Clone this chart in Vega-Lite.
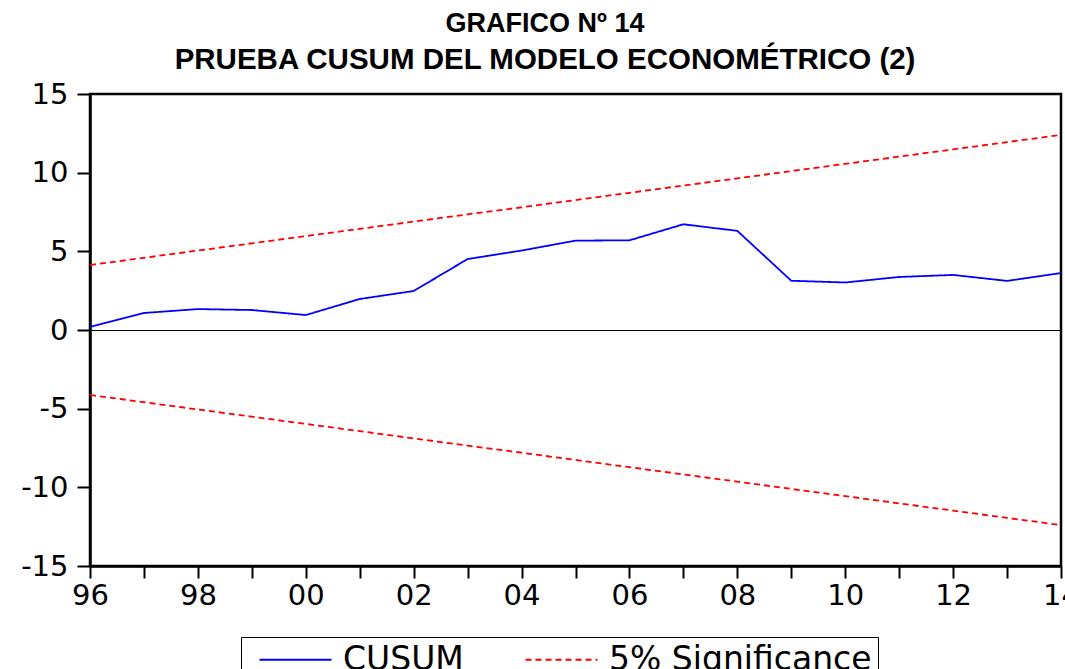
{
  "$schema": "https://vega.github.io/schema/vega-lite/v6.json",
  "autosize": {"type": "none"},
  "width": 971,
  "height": 472,
  "padding": {"left": 90, "top": 94, "right": 4, "bottom": 103},
  "background": "white",
  "config": {
    "font": "Liberation Sans",
    "view": {"stroke": "black", "strokeWidth": 2.5},
    "axis": {"grid": false, "domainColor": "black", "domainWidth": 2.5, "tickColor": "black", "tickWidth": 2, "labelColor": "black", "labelFont": "DejaVu Sans", "labelFontSize": 29, "titleFont": "Liberation Sans"}
  },
  "title": {
    "text": "GRAFICO Nº 14",
    "subtitle": "PRUEBA CUSUM DEL MODELO ECONOMÉTRICO (2)",
    "anchor": "middle",
    "frame": "bounds",
    "dx": -5,
    "font": "Liberation Sans",
    "fontSize": 27,
    "fontWeight": "bold",
    "color": "black",
    "subtitleFont": "Liberation Sans",
    "subtitleFontSize": 29.5,
    "subtitleFontWeight": "bold",
    "subtitleColor": "black",
    "subtitlePadding": 8,
    "offset": 5
  },
  "data": {
    "values": [
      {"year": 1996, "series": "CUSUM", "band": "c", "value": 0.2},
      {"year": 1997, "series": "CUSUM", "band": "c", "value": 1.08},
      {"year": 1998, "series": "CUSUM", "band": "c", "value": 1.33},
      {"year": 1999, "series": "CUSUM", "band": "c", "value": 1.27},
      {"year": 2000, "series": "CUSUM", "band": "c", "value": 0.95},
      {"year": 2001, "series": "CUSUM", "band": "c", "value": 1.97},
      {"year": 2002, "series": "CUSUM", "band": "c", "value": 2.48},
      {"year": 2003, "series": "CUSUM", "band": "c", "value": 4.51},
      {"year": 2004, "series": "CUSUM", "band": "c", "value": 5.05},
      {"year": 2005, "series": "CUSUM", "band": "c", "value": 5.68},
      {"year": 2006, "series": "CUSUM", "band": "c", "value": 5.70},
      {"year": 2007, "series": "CUSUM", "band": "c", "value": 6.72},
      {"year": 2008, "series": "CUSUM", "band": "c", "value": 6.30},
      {"year": 2009, "series": "CUSUM", "band": "c", "value": 3.13},
      {"year": 2010, "series": "CUSUM", "band": "c", "value": 3.02},
      {"year": 2011, "series": "CUSUM", "band": "c", "value": 3.37},
      {"year": 2012, "series": "CUSUM", "band": "c", "value": 3.50},
      {"year": 2013, "series": "CUSUM", "band": "c", "value": 3.12},
      {"year": 2014, "series": "CUSUM", "band": "c", "value": 3.62},
      {"year": 1996, "series": "5% Significance", "band": "u", "value": 4.13},
      {"year": 1997, "series": "5% Significance", "band": "u", "value": 4.59},
      {"year": 1998, "series": "5% Significance", "band": "u", "value": 5.05},
      {"year": 1999, "series": "5% Significance", "band": "u", "value": 5.51},
      {"year": 2000, "series": "5% Significance", "band": "u", "value": 5.97},
      {"year": 2001, "series": "5% Significance", "band": "u", "value": 6.43},
      {"year": 2002, "series": "5% Significance", "band": "u", "value": 6.89},
      {"year": 2003, "series": "5% Significance", "band": "u", "value": 7.35},
      {"year": 2004, "series": "5% Significance", "band": "u", "value": 7.80},
      {"year": 2005, "series": "5% Significance", "band": "u", "value": 8.26},
      {"year": 2006, "series": "5% Significance", "band": "u", "value": 8.72},
      {"year": 2007, "series": "5% Significance", "band": "u", "value": 9.18},
      {"year": 2008, "series": "5% Significance", "band": "u", "value": 9.64},
      {"year": 2009, "series": "5% Significance", "band": "u", "value": 10.10},
      {"year": 2010, "series": "5% Significance", "band": "u", "value": 10.56},
      {"year": 2011, "series": "5% Significance", "band": "u", "value": 11.02},
      {"year": 2012, "series": "5% Significance", "band": "u", "value": 11.48},
      {"year": 2013, "series": "5% Significance", "band": "u", "value": 11.94},
      {"year": 2014, "series": "5% Significance", "band": "u", "value": 12.40},
      {"year": 1996, "series": "5% Significance", "band": "l", "value": -4.13},
      {"year": 1997, "series": "5% Significance", "band": "l", "value": -4.59},
      {"year": 1998, "series": "5% Significance", "band": "l", "value": -5.05},
      {"year": 1999, "series": "5% Significance", "band": "l", "value": -5.51},
      {"year": 2000, "series": "5% Significance", "band": "l", "value": -5.97},
      {"year": 2001, "series": "5% Significance", "band": "l", "value": -6.43},
      {"year": 2002, "series": "5% Significance", "band": "l", "value": -6.89},
      {"year": 2003, "series": "5% Significance", "band": "l", "value": -7.35},
      {"year": 2004, "series": "5% Significance", "band": "l", "value": -7.80},
      {"year": 2005, "series": "5% Significance", "band": "l", "value": -8.26},
      {"year": 2006, "series": "5% Significance", "band": "l", "value": -8.72},
      {"year": 2007, "series": "5% Significance", "band": "l", "value": -9.18},
      {"year": 2008, "series": "5% Significance", "band": "l", "value": -9.64},
      {"year": 2009, "series": "5% Significance", "band": "l", "value": -10.10},
      {"year": 2010, "series": "5% Significance", "band": "l", "value": -10.56},
      {"year": 2011, "series": "5% Significance", "band": "l", "value": -11.02},
      {"year": 2012, "series": "5% Significance", "band": "l", "value": -11.48},
      {"year": 2013, "series": "5% Significance", "band": "l", "value": -11.94},
      {"year": 2014, "series": "5% Significance", "band": "l", "value": -12.40}
    ]
  },
  "layer": [
    {
      "mark": {"type": "rule", "color": "black", "strokeWidth": 1, "yOffset": 0.5},
      "data": {"values": [{"zero": 0}]},
      "encoding": {"y": {"field": "zero", "type": "quantitative", "scale": {"domain": [-15, 15]}}}
    },
    {
      "mark": {"type": "line", "strokeWidth": 1.8},
      "encoding": {
        "x": {
          "field": "year", "type": "quantitative",
          "scale": {"domain": [1996, 2014], "nice": false, "zero": false},
          "axis": {"title": null, "values": [1996,1997,1998,1999,2000,2001,2002,2003,2004,2005,2006,2007,2008,2009,2010,2011,2012,2013,2014], "labelExpr": "datum.value % 2 == 0 ? substring(toString(datum.value), 2, 4) : ''", "tickSize": 12, "labelPadding": 3, "labelFlush": false, "labelOverlap": false}
        },
        "y": {
          "field": "value", "type": "quantitative",
          "scale": {"domain": [-15, 15], "nice": false},
          "axis": {"title": null, "values": [-15, -10, -5, 0, 5, 10, 15], "labelExpr": "toString(datum.value)", "tickSize": 13, "labelPadding": 9, "labelBaseline": "middle", "labelFlush": false, "labelOverlap": false}
        },
        "detail": {"field": "band"},
        "color": {
          "field": "series", "type": "nominal",
          "scale": {"domain": ["CUSUM", "5% Significance"], "range": ["#0000FF", "#FF0000"]},
          "legend": {
            "title": null, "orient": "none", "direction": "horizontal",
            "legendX": 151, "legendY": 543,
            "strokeColor": "black", "padding": 6,
            "symbolType": "M-3,0H3", "symbolSize": 576, "symbolStrokeWidth": 1.8, "symbolOffset": 32,
            "labelFontSize": 33, "labelFont": "DejaVu Sans", "labelColor": "black", "labelLimit": 500,
            "labelOffset": 31, "columnPadding": 49
          }
        },
        "strokeDash": {
          "field": "series", "type": "nominal",
          "scale": {"domain": ["CUSUM", "5% Significance"], "range": [[1, 0], [6, 4]]},
          "legend": {
            "title": null, "orient": "none", "direction": "horizontal",
            "legendX": 151, "legendY": 543,
            "strokeColor": "black", "padding": 6,
            "symbolType": "M-3,0H3", "symbolSize": 576, "symbolStrokeWidth": 1.8, "symbolOffset": 32,
            "labelFontSize": 33, "labelFont": "DejaVu Sans", "labelColor": "black", "labelLimit": 500,
            "labelOffset": 31, "columnPadding": 49
          }
        }
      }
    }
  ]
}
